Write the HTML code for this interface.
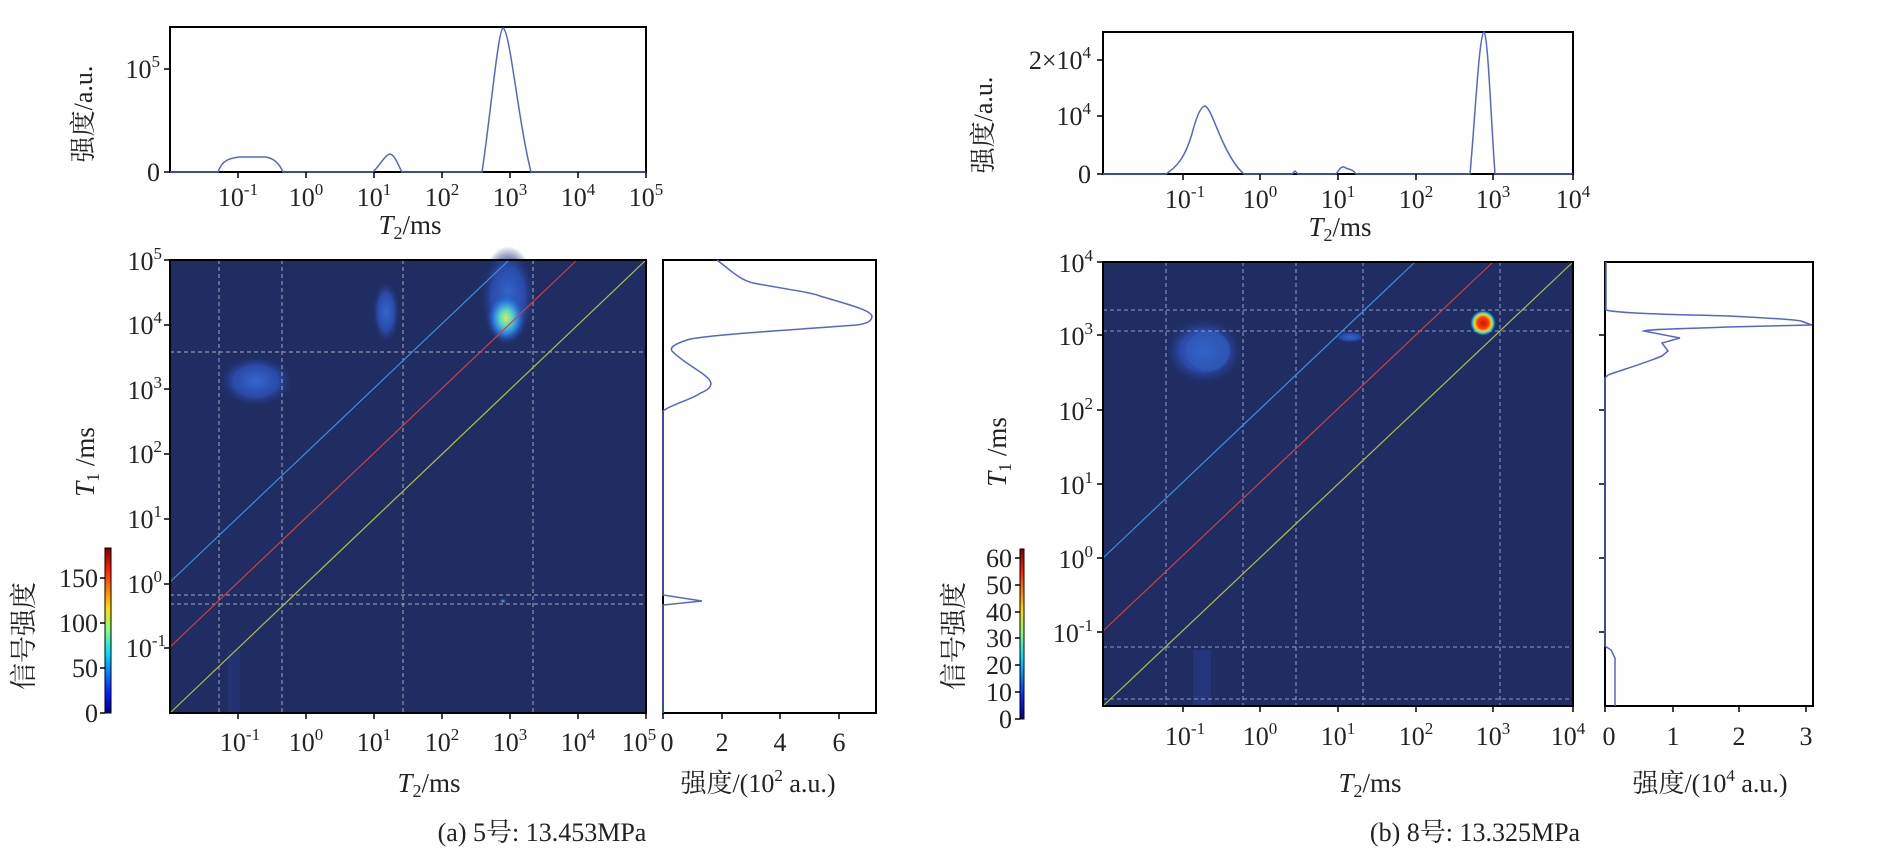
<!DOCTYPE html>
<html><head><meta charset="utf-8"><style>
html,body{margin:0;padding:0;background:#fff;}
svg{display:block;font-family:"Liberation Serif","Noto Serif CJK SC",serif;}
</style></head><body>
<svg width="1890" height="850" viewBox="0 0 1890 850" xmlns="http://www.w3.org/2000/svg">
<defs>
<linearGradient id="jet" x1="0" y1="1" x2="0" y2="0">
<stop offset="0" stop-color="#00008f"/><stop offset="0.12" stop-color="#0020ff"/><stop offset="0.37" stop-color="#00e0ff"/><stop offset="0.5" stop-color="#7fff7f"/><stop offset="0.63" stop-color="#ffe000"/><stop offset="0.87" stop-color="#ff2000"/><stop offset="1" stop-color="#800000"/>
</linearGradient>
<radialGradient id="bigA"><stop offset="0" stop-color="#c8f060"/><stop offset="0.3" stop-color="#60d8c0"/><stop offset="0.6" stop-color="#3080e0"/><stop offset="1" stop-color="#2040a0" stop-opacity="0"/></radialGradient>
<radialGradient id="faint"><stop offset="0" stop-color="#3366cc"/><stop offset="0.6" stop-color="#2a4aa8"/><stop offset="1" stop-color="#1f2d63" stop-opacity="0"/></radialGradient>
<radialGradient id="redB"><stop offset="0" stop-color="#d01010"/><stop offset="0.45" stop-color="#ff4000"/><stop offset="0.65" stop-color="#f0e000"/><stop offset="0.8" stop-color="#30c0f0"/><stop offset="1" stop-color="#2050c0" stop-opacity="0"/></radialGradient>
<radialGradient id="dot"><stop offset="0" stop-color="#60c0ff"/><stop offset="1" stop-color="#1f2d63" stop-opacity="0"/></radialGradient>
</defs>
<g font-size="26" fill="#222">

<!-- ===== LEFT PANEL ===== -->
<rect x="170" y="27" width="476" height="145" fill="none" stroke="#000" stroke-width="2"/>
<path d="M170,172 L218,172 C222,160 230,158 240,157 L265,157 C275,158 280,165 283,172 L373,172 C380,165 385,155 390,154 C395,155 398,165 402,172 L482,172 C490,120 498,30 503,28 C510,30 518,120 531,172 L646,172" fill="none" stroke="#5566c8" stroke-width="1.5"/>
<g stroke="#000" stroke-width="1.5"><line x1="164" y1="172" x2="170" y2="172"/><line x1="164" y1="69" x2="170" y2="69"/>
<line x1="238" y1="172" x2="238" y2="178"/><line x1="306" y1="172" x2="306" y2="178"/><line x1="374" y1="172" x2="374" y2="178"/><line x1="442" y1="172" x2="442" y2="178"/><line x1="510" y1="172" x2="510" y2="178"/><line x1="578" y1="172" x2="578" y2="178"/><line x1="646" y1="172" x2="646" y2="178"/></g>
<text x="160" y="181" text-anchor="end">0</text>
<text x="160" y="78" text-anchor="end">10<tspan font-size="17" dy="-11">5</tspan></text>
<g text-anchor="middle">
<text x="238" y="206">10<tspan font-size="17" dy="-11">-1</tspan></text>
<text x="306" y="206">10<tspan font-size="17" dy="-11">0</tspan></text>
<text x="374" y="206">10<tspan font-size="17" dy="-11">1</tspan></text>
<text x="442" y="206">10<tspan font-size="17" dy="-11">2</tspan></text>
<text x="510" y="206">10<tspan font-size="17" dy="-11">3</tspan></text>
<text x="578" y="206">10<tspan font-size="17" dy="-11">4</tspan></text>
<text x="646" y="206">10<tspan font-size="17" dy="-11">5</tspan></text>
</g>
<text x="410" y="234" text-anchor="middle" font-size="27"><tspan font-style="italic">T</tspan><tspan font-size="18" dy="5">2</tspan><tspan dy="-5">/ms</tspan></text>
<text transform="translate(92,114) rotate(-90)" text-anchor="middle" font-size="26">强度/a.u.</text>

<rect x="170" y="260" width="476" height="453" fill="#1f2d63"/>
<ellipse cx="508" cy="296" rx="28" ry="50" fill="url(#faint)"/>
<ellipse cx="506" cy="318" rx="20" ry="26" fill="url(#bigA)"/>
<ellipse cx="386" cy="312" rx="14" ry="32" fill="url(#faint)"/>
<ellipse cx="256" cy="381" rx="38" ry="26" fill="url(#faint)"/>
<ellipse cx="503" cy="601" rx="4" ry="3" fill="url(#dot)"/>
<rect x="228" y="650" width="12" height="63" fill="#233272"/>
<g stroke="#c8c8c8" stroke-width="1" stroke-dasharray="4,3" opacity="0.8">
<line x1="219" y1="260" x2="219" y2="713"/><line x1="282" y1="260" x2="282" y2="713"/><line x1="403" y1="260" x2="403" y2="713"/><line x1="533" y1="260" x2="533" y2="713"/>
<line x1="170" y1="352" x2="646" y2="352"/><line x1="170" y1="595" x2="646" y2="595"/><line x1="170" y1="604" x2="646" y2="604"/>
</g>
<line x1="170" y1="582" x2="509" y2="260" stroke="#3a8fe0" stroke-width="1.2"/>
<line x1="170" y1="647" x2="577" y2="260" stroke="#d04040" stroke-width="1.2"/>
<line x1="170" y1="713" x2="646" y2="260" stroke="#b0c040" stroke-width="1.2"/>
<rect x="170" y="260" width="476" height="453" fill="none" stroke="#000" stroke-width="2"/>
<g stroke="#000" stroke-width="1.5">
<line x1="164" y1="260" x2="170" y2="260"/><line x1="164" y1="325" x2="170" y2="325"/><line x1="164" y1="389" x2="170" y2="389"/><line x1="164" y1="454" x2="170" y2="454"/><line x1="164" y1="519" x2="170" y2="519"/><line x1="164" y1="584" x2="170" y2="584"/><line x1="164" y1="648" x2="170" y2="648"/>
<line x1="238" y1="713" x2="238" y2="719"/><line x1="306" y1="713" x2="306" y2="719"/><line x1="374" y1="713" x2="374" y2="719"/><line x1="442" y1="713" x2="442" y2="719"/><line x1="510" y1="713" x2="510" y2="719"/><line x1="578" y1="713" x2="578" y2="719"/><line x1="646" y1="713" x2="646" y2="719"/>
</g>
<g text-anchor="end">
<text x="162" y="270">10<tspan font-size="17" dy="-11">5</tspan></text>
<text x="162" y="334">10<tspan font-size="17" dy="-11">4</tspan></text>
<text x="162" y="399">10<tspan font-size="17" dy="-11">3</tspan></text>
<text x="162" y="463">10<tspan font-size="17" dy="-11">2</tspan></text>
<text x="162" y="528">10<tspan font-size="17" dy="-11">1</tspan></text>
<text x="162" y="593">10<tspan font-size="17" dy="-11">0</tspan></text>
<text x="166" y="657">10<tspan font-size="17" dy="-11">-1</tspan></text>
</g>
<g text-anchor="middle">
<text x="240" y="751">10<tspan font-size="17" dy="-11">-1</tspan></text>
<text x="306" y="751">10<tspan font-size="17" dy="-11">0</tspan></text>
<text x="374" y="751">10<tspan font-size="17" dy="-11">1</tspan></text>
<text x="442" y="751">10<tspan font-size="17" dy="-11">2</tspan></text>
<text x="510" y="751">10<tspan font-size="17" dy="-11">3</tspan></text>
<text x="578" y="751">10<tspan font-size="17" dy="-11">4</tspan></text>
<text x="639" y="751">10<tspan font-size="17" dy="-11">5</tspan></text>
</g>
<text x="429" y="792" text-anchor="middle" font-size="27"><tspan font-style="italic">T</tspan><tspan font-size="18" dy="5">2</tspan><tspan dy="-5">/ms</tspan></text>
<text transform="translate(94,462) rotate(-90)" text-anchor="middle" font-size="27"><tspan font-style="italic">T</tspan><tspan font-size="18" dy="5">1</tspan><tspan dy="-5"> /ms</tspan></text>

<rect x="105" y="548" width="6" height="165" fill="url(#jet)" stroke="#000" stroke-width="1"/>
<g stroke="#000" stroke-width="1.5"><line x1="100" y1="713" x2="105" y2="713"/><line x1="100" y1="668" x2="105" y2="668"/><line x1="100" y1="623" x2="105" y2="623"/><line x1="100" y1="578" x2="105" y2="578"/></g>
<g text-anchor="end">
<text x="98" y="722">0</text><text x="98" y="677">50</text><text x="98" y="632">100</text><text x="98" y="587">150</text>
</g>
<text transform="translate(33,636) rotate(-90)" text-anchor="middle" font-size="27">信号强度</text>

<rect x="663" y="260" width="213" height="453" fill="none" stroke="#000" stroke-width="2"/>
<path d="M717,260 C730,270 740,280 753,283 C790,290 810,292 820,296 C850,305 870,310 872,316 C872,322 865,324 856,325 C820,328 700,335 687,340 C672,345 670,348 672,351 C685,365 711,375 711,384 C710,390 702,392 699,394 C690,400 670,405 663,411 L663,595 L702,601 L663,605 L663,713" fill="none" stroke="#5566c8" stroke-width="1.5"/>
<g stroke="#000" stroke-width="1.5"><line x1="663" y1="713" x2="663" y2="719"/><line x1="722" y1="713" x2="722" y2="719"/><line x1="780" y1="713" x2="780" y2="719"/><line x1="839" y1="713" x2="839" y2="719"/></g>
<g text-anchor="middle"><text x="667" y="751">0</text><text x="722" y="751">2</text><text x="780" y="751">4</text><text x="839" y="751">6</text></g>
<text x="758" y="792" text-anchor="middle" font-size="26">强度/(10<tspan font-size="17" dy="-11">2</tspan><tspan dy="11"> a.u.)</tspan></text>
<text x="542" y="841" text-anchor="middle" font-size="26">(a) 5号: 13.453MPa</text>

<!-- ===== RIGHT PANEL ===== -->
<rect x="1103" y="32" width="470" height="142" fill="none" stroke="#000" stroke-width="2"/>
<path d="M1103,174 L1166,174 C1175,168 1185,160 1193,130 C1198,112 1202,106 1205,106 C1210,108 1215,125 1222,140 C1230,158 1237,168 1244,174 L1292,174 L1295,171 L1298,174 L1336,174 C1339,170 1341,166 1344,167 C1348,170 1352,168 1356,174 L1470,174 C1475,120 1479,35 1484,32 C1488,35 1491,120 1495,174 L1573,174" fill="none" stroke="#5566c8" stroke-width="1.5"/>
<g stroke="#000" stroke-width="1.5"><line x1="1097" y1="174" x2="1103" y2="174"/><line x1="1097" y1="116" x2="1103" y2="116"/><line x1="1097" y1="60" x2="1103" y2="60"/>
<line x1="1183" y1="174" x2="1183" y2="180"/><line x1="1260" y1="174" x2="1260" y2="180"/><line x1="1338" y1="174" x2="1338" y2="180"/><line x1="1416" y1="174" x2="1416" y2="180"/><line x1="1493" y1="174" x2="1493" y2="180"/><line x1="1573" y1="174" x2="1573" y2="180"/></g>
<g text-anchor="end">
<text x="1091" y="183">0</text>
<text x="1091" y="125">10<tspan font-size="17" dy="-11">4</tspan></text>
<text x="1091" y="69">2×10<tspan font-size="17" dy="-11">4</tspan></text>
</g>
<g text-anchor="middle">
<text x="1185" y="208">10<tspan font-size="17" dy="-11">-1</tspan></text>
<text x="1260" y="208">10<tspan font-size="17" dy="-11">0</tspan></text>
<text x="1338" y="208">10<tspan font-size="17" dy="-11">1</tspan></text>
<text x="1416" y="208">10<tspan font-size="17" dy="-11">2</tspan></text>
<text x="1493" y="208">10<tspan font-size="17" dy="-11">3</tspan></text>
<text x="1573" y="208">10<tspan font-size="17" dy="-11">4</tspan></text>
</g>
<text x="1340" y="236" text-anchor="middle" font-size="27"><tspan font-style="italic">T</tspan><tspan font-size="18" dy="5">2</tspan><tspan dy="-5">/ms</tspan></text>
<text transform="translate(992,125) rotate(-90)" text-anchor="middle" font-size="26">强度/a.u.</text>

<rect x="1103" y="262" width="470" height="444" fill="#1f2d63"/>
<ellipse cx="1204" cy="351" rx="40" ry="34" fill="url(#faint)"/>
<ellipse cx="1208" cy="351" rx="22" ry="20" fill="#3060c0" opacity="0.5"/>
<ellipse cx="1350" cy="337" rx="16" ry="6" fill="url(#faint)"/>
<circle cx="1483" cy="323" r="13" fill="url(#redB)"/>
<rect x="1193" y="650" width="18" height="56" fill="#24357a"/>
<g stroke="#b0b8e8" stroke-width="1" stroke-dasharray="4,3" opacity="0.8">
<line x1="1166" y1="262" x2="1166" y2="706"/><line x1="1243" y1="262" x2="1243" y2="706"/><line x1="1296" y1="262" x2="1296" y2="706"/><line x1="1363" y1="262" x2="1363" y2="706"/><line x1="1500" y1="262" x2="1500" y2="706"/>
<line x1="1103" y1="310" x2="1573" y2="310"/><line x1="1103" y1="331" x2="1573" y2="331"/><line x1="1103" y1="647" x2="1573" y2="647"/><line x1="1103" y1="699" x2="1573" y2="699"/>
</g>
<line x1="1103" y1="558" x2="1415" y2="262" stroke="#3a8fe0" stroke-width="1.2"/>
<line x1="1103" y1="631" x2="1493" y2="262" stroke="#d04040" stroke-width="1.2"/>
<line x1="1103" y1="706" x2="1573" y2="262" stroke="#b0c040" stroke-width="1.2"/>
<rect x="1103" y="262" width="470" height="444" fill="none" stroke="#000" stroke-width="2"/>
<g stroke="#000" stroke-width="1.5">
<line x1="1097" y1="262" x2="1103" y2="262"/><line x1="1097" y1="335" x2="1103" y2="335"/><line x1="1097" y1="410" x2="1103" y2="410"/><line x1="1097" y1="484" x2="1103" y2="484"/><line x1="1097" y1="558" x2="1103" y2="558"/><line x1="1097" y1="632" x2="1103" y2="632"/>
<line x1="1183" y1="706" x2="1183" y2="712"/><line x1="1260" y1="706" x2="1260" y2="712"/><line x1="1338" y1="706" x2="1338" y2="712"/><line x1="1416" y1="706" x2="1416" y2="712"/><line x1="1493" y1="706" x2="1493" y2="712"/><line x1="1573" y1="706" x2="1573" y2="712"/>
</g>
<g text-anchor="end">
<text x="1093" y="272">10<tspan font-size="17" dy="-11">4</tspan></text>
<text x="1093" y="345">10<tspan font-size="17" dy="-11">3</tspan></text>
<text x="1093" y="420">10<tspan font-size="17" dy="-11">2</tspan></text>
<text x="1093" y="494">10<tspan font-size="17" dy="-11">1</tspan></text>
<text x="1093" y="568">10<tspan font-size="17" dy="-11">0</tspan></text>
<text x="1093" y="642">10<tspan font-size="17" dy="-11">-1</tspan></text>
</g>
<g text-anchor="middle">
<text x="1185" y="745">10<tspan font-size="17" dy="-11">-1</tspan></text>
<text x="1260" y="745">10<tspan font-size="17" dy="-11">0</tspan></text>
<text x="1338" y="745">10<tspan font-size="17" dy="-11">1</tspan></text>
<text x="1416" y="745">10<tspan font-size="17" dy="-11">2</tspan></text>
<text x="1493" y="745">10<tspan font-size="17" dy="-11">3</tspan></text>
<text x="1568" y="745">10<tspan font-size="17" dy="-11">4</tspan></text>
</g>
<text x="1370" y="792" text-anchor="middle" font-size="27"><tspan font-style="italic">T</tspan><tspan font-size="18" dy="5">2</tspan><tspan dy="-5">/ms</tspan></text>
<text transform="translate(1006,452) rotate(-90)" text-anchor="middle" font-size="27"><tspan font-style="italic">T</tspan><tspan font-size="18" dy="5">1</tspan><tspan dy="-5"> /ms</tspan></text>

<rect x="1020" y="549" width="4" height="170" fill="url(#jet)" stroke="#000" stroke-width="1"/>
<g stroke="#000" stroke-width="1.5"><line x1="1015" y1="719" x2="1020" y2="719"/><line x1="1015" y1="692" x2="1020" y2="692"/><line x1="1015" y1="665" x2="1020" y2="665"/><line x1="1015" y1="638" x2="1020" y2="638"/><line x1="1015" y1="612" x2="1020" y2="612"/><line x1="1015" y1="585" x2="1020" y2="585"/><line x1="1015" y1="558" x2="1020" y2="558"/></g>
<g text-anchor="end">
<text x="1012" y="728">0</text><text x="1012" y="701">10</text><text x="1012" y="674">20</text><text x="1012" y="647">30</text><text x="1012" y="621">40</text><text x="1012" y="594">50</text><text x="1012" y="567">60</text>
</g>
<text transform="translate(963,636) rotate(-90)" text-anchor="middle" font-size="27">信号强度</text>

<rect x="1605" y="262" width="208" height="444" fill="none" stroke="#000" stroke-width="2"/>
<g stroke="#000" stroke-width="1.5"><line x1="1599" y1="335" x2="1605" y2="335"/><line x1="1599" y1="410" x2="1605" y2="410"/><line x1="1599" y1="484" x2="1605" y2="484"/><line x1="1599" y1="558" x2="1605" y2="558"/><line x1="1599" y1="632" x2="1605" y2="632"/>
<line x1="1605" y1="706" x2="1605" y2="712"/><line x1="1673" y1="706" x2="1673" y2="712"/><line x1="1739" y1="706" x2="1739" y2="712"/><line x1="1806" y1="706" x2="1806" y2="712"/></g>
<path d="M1606,262 L1606,310 C1620,314 1700,315 1728,316 C1770,318 1795,320 1801,321 L1812,325 L1728,327 C1680,329 1650,329 1644,331 L1680,338 L1662,343 L1668,351 L1662,356 C1640,365 1615,372 1608,375 L1605,378 L1605,646 L1611,650 L1615,658 L1615,706" fill="none" stroke="#5566c8" stroke-width="1.5"/>
<g text-anchor="middle"><text x="1609" y="745">0</text><text x="1673" y="745">1</text><text x="1739" y="745">2</text><text x="1806" y="745">3</text></g>
<text x="1710" y="792" text-anchor="middle" font-size="26">强度/(10<tspan font-size="17" dy="-11">4</tspan><tspan dy="11"> a.u.)</tspan></text>
<text x="1475" y="841" text-anchor="middle" font-size="26">(b) 8号: 13.325MPa</text>
</g>
</svg>
</body></html>
